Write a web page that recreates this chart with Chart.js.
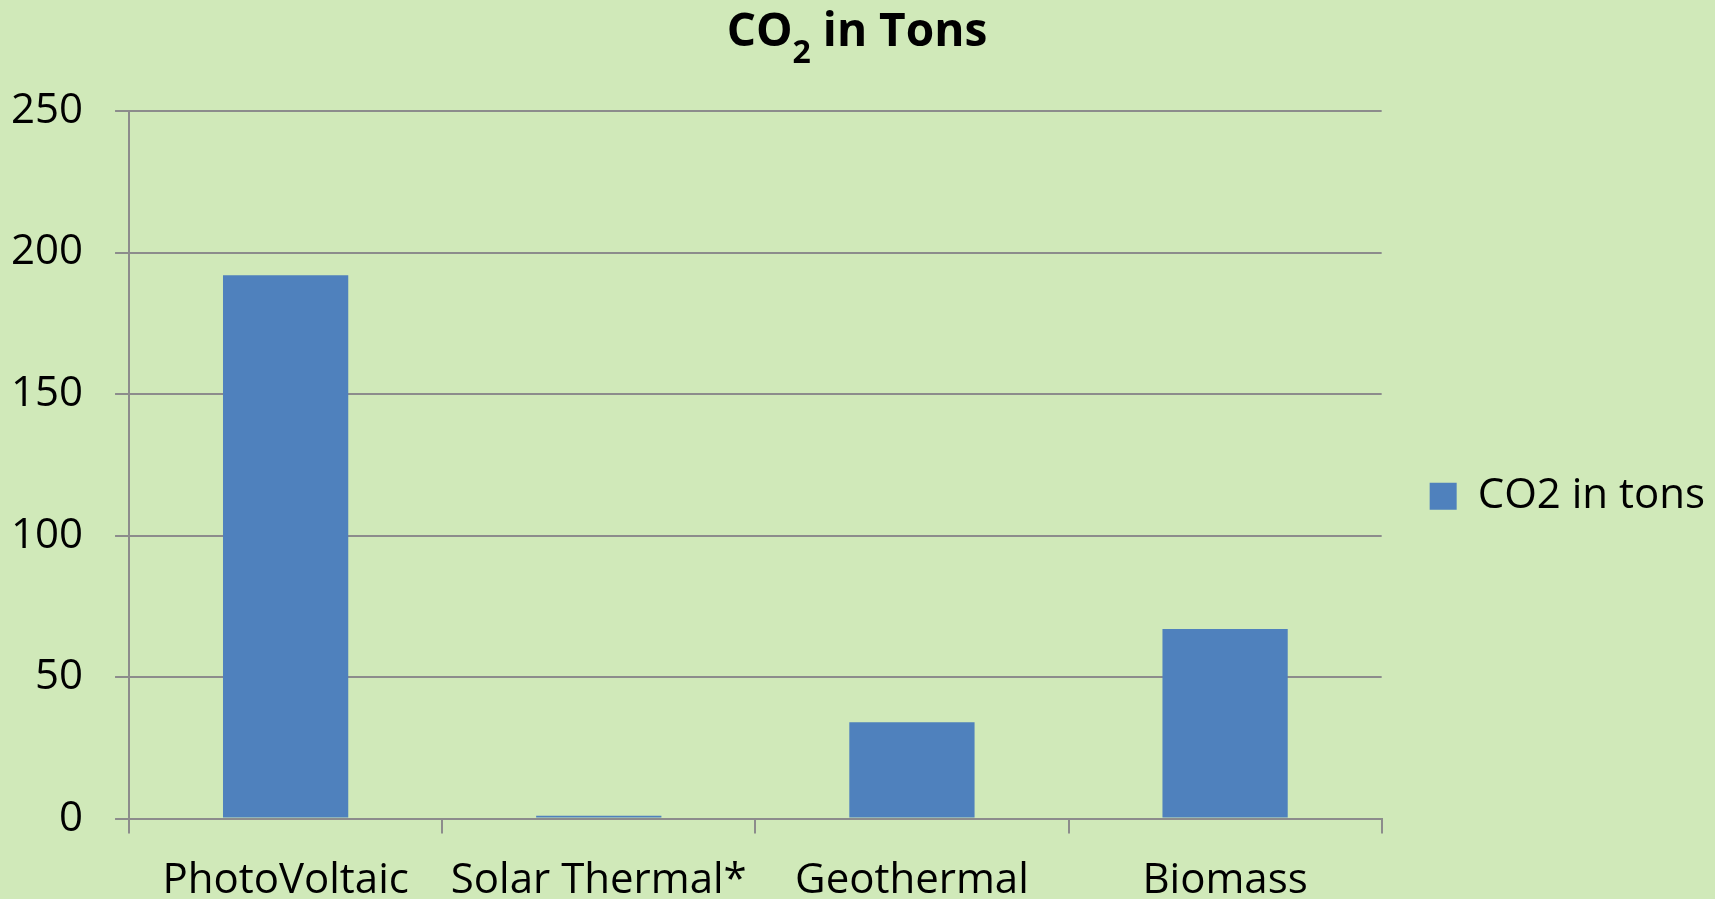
<!DOCTYPE html>
<html>
<head>
<meta charset="utf-8">
<script src="https://cdn.jsdelivr.net/npm/chart.js"></script>
<style>
  html, body { margin: 0; padding: 0; overflow: hidden; background: #d0e9b9; }
  canvas { display: block; }
</style>
</head>
<body>
<canvas id="co2-chart" width="1715" height="928"></canvas>
<script>
// data
var categories = ["PhotoVoltaic", "Solar Thermal*", "Geothermal", "Biomass"];
var co2Tons = [192, 1, 34, 67];
var seriesName = "CO2 in tons";
var yTicks = [0, 50, 100, 150, 200, 250];

var gridColor = '#8c8c8c';
Chart.defaults.font.family = "'Open Sans', sans-serif";
Chart.defaults.color = '#000';

// background + title with a subscript 2
var decor = {
    id: 'decor',
    beforeDraw: function(chart) {
        var c = chart.ctx;
        c.save();
        c.fillStyle = '#d0e9b9';
        c.fillRect(0, 0, chart.width, chart.height);
        c.restore();
    },
    afterDraw: function(chart) {
        var c = chart.ctx;
        c.save();
        var big = "bold 46px 'Open Sans'", small = "bold 32px 'Open Sans'";
        c.font = big;
        var w1 = c.measureText('CO').width;
        var w3 = c.measureText(' in Tons').width;
        c.font = small;
        var w2 = c.measureText('2').width;
        var x = 857 - (w1 + w2 + w3) / 2;
        c.fillStyle = '#000';
        c.textBaseline = 'alphabetic';
        c.font = big;
        c.fillText('CO', x, 46);
        c.font = small;
        c.fillText('2', x + w1, 63);
        c.font = big;
        c.fillText(' in Tons', x + w1 + w2, 46);
        c.restore();
    }
};

new Chart(document.getElementById('co2-chart'), {
    type: 'bar',
    data: {
        labels: categories,
        datasets: [{
            label: seriesName,
            data: co2Tons,
            backgroundColor: '#4f81bd',
            borderWidth: 0,
            categoryPercentage: 1,
            barPercentage: 0.4
        }]
    },
    options: {
        responsive: false,
        animation: false,
        layout: { padding: { top: 111, left: -21, right: 0, bottom: 0 } },
        plugins: {
            title: { display: false },
            tooltip: { enabled: false },
            legend: {
                position: 'right',
                fullSize: false,
                title: {
                    display: true,
                    text: ' ',
                    font: { size: 10 },
                    padding: { top: 0, bottom: 51 }
                },
                labels: {
                    boxWidth: 27,
                    boxHeight: 27,
                    padding: 48,
                    font: { size: 42 },
                    color: '#000'
                }
            }
        },
        scales: {
            x: {
                grid: {
                    display: true,
                    drawOnChartArea: false,
                    drawTicks: true,
                    tickLength: 15,
                    color: gridColor,
                    lineWidth: 2,
                    offset: true
                },
                border: { display: true, color: gridColor, width: 2 },
                ticks: { font: { size: 42 }, padding: 22, maxRotation: 0 }
            },
            y: {
                min: 0,
                max: 250,
                afterBuildTicks: function(scale) {
                    scale.ticks = yTicks.map(function(v) { return { value: v }; });
                },
                grid: {
                    color: gridColor,
                    lineWidth: 2,
                    tickLength: 14
                },
                border: { display: true, color: gridColor, width: 2 },
                ticks: { font: { size: 42 }, padding: 32 }
            }
        }
    },
    plugins: [decor]
});
</script>
</body>
</html>
